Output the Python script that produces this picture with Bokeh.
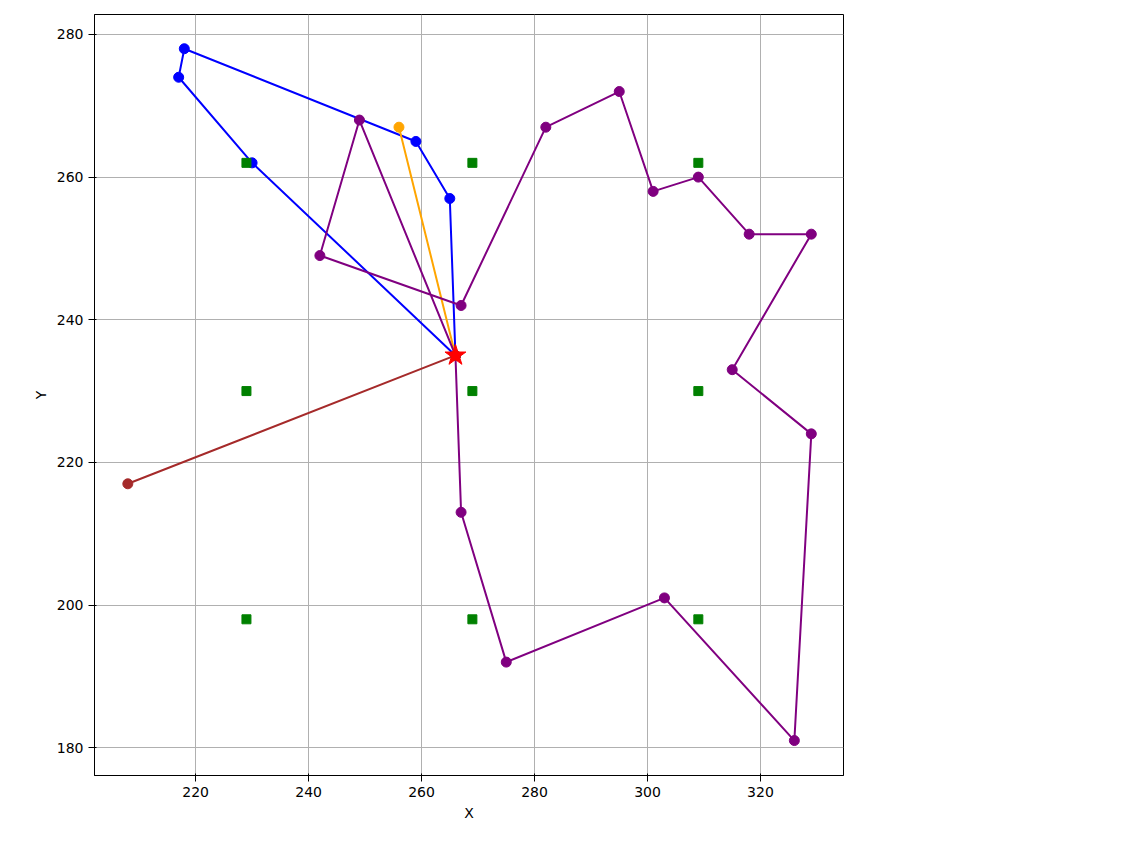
from bokeh.plotting import figure
from bokeh.models import Legend, Range1d
from bokeh.embed import file_html
from bokeh.resources import INLINE

depot = (266, 235)
r1_x = [266, 265, 259, 218, 217, 230, 266]
r1_y = [235, 257, 265, 278, 274, 262, 235]
r2_x = [266, 256, 266]
r2_y = [235, 267, 235]
r3_x = [266, 249, 242, 267, 282, 295, 301, 309, 318, 329, 315, 329, 326, 303, 275, 267, 266]
r3_y = [235, 268, 249, 242, 267, 272, 258, 260, 252, 252, 233, 224, 181, 201, 192, 213, 235]
r4_x = [266, 208, 266]
r4_y = [235, 217, 235]
st_x = [229, 269, 309, 229, 269, 309, 229, 269, 309]
st_y = [262, 262, 262, 230, 230, 230, 198, 198, 198]

p = figure(frame_width=749, frame_height=761, output_backend="svg", toolbar_location=None,
           x_range=Range1d(202.1, 334.7), y_range=Range1d(176.1, 282.8),
           min_border_left=94, min_border_top=14, min_border_bottom=50, min_border_right=280)
p.outline_line_color = "black"
p.xaxis.axis_label = "X"
p.yaxis.axis_label = "Y"
for ax in (p.xaxis, p.yaxis):
    ax.axis_label_text_font_style = "normal"
    ax.axis_label_text_font = "DejaVu Sans"
    ax.major_label_text_font = "DejaVu Sans"
    ax.axis_label_text_font_size = "14px"
    ax.major_label_text_font_size = "14px"
    ax.axis_label_text_color = "black"
    ax.major_label_text_color = "black"
    ax.minor_tick_line_color = None
p.xaxis.ticker = [220, 240, 260, 280, 300, 320]
p.yaxis.ticker = [180, 200, 220, 240, 260, 280]
p.grid.grid_line_color = "#b0b0b0"
p.grid.grid_line_alpha = 1.0

items = []
for xs, ys, c, lab in [(r1_x, r1_y, "blue", "Rota 1"), (r2_x, r2_y, "orange", "Rota 2"),
                       (r3_x, r3_y, "purple", "Rota 3"), (r4_x, r4_y, "brown", "Rota 4")]:
    l = p.line(xs, ys, line_color=c, line_width=2)
    s = p.scatter(xs, ys, size=10, color=c)
    items.append((lab, [l, s]))
d = p.scatter([depot[0]], [depot[1]], marker="star", size=22, color="red")
items.append(("Depósito", [d]))
st = p.scatter(st_x, st_y, marker="square", size=9, color="green")
items.append(("Estação de Recarga", [st]))

leg = Legend(items=items, location=(759, 291), label_text_font="DejaVu Sans",
             label_text_font_size="14px", border_line_color="#cccccc", spacing=0,
             padding=6, label_height=20, glyph_height=20)
p.add_layout(leg, "center")
open("out.html", "w").write(file_html(p, INLINE))
